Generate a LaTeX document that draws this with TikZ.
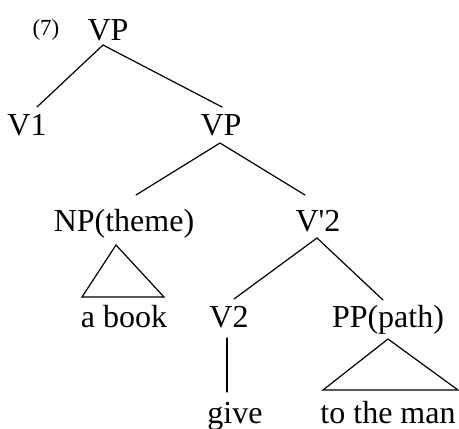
\documentclass[tikz,border=0pt]{standalone}
\usepackage{fontspec}
\setmainfont{Liberation Serif}
\begin{document}
\begin{tikzpicture}[x=1pt,y=-1pt,
  lbl/.style={anchor=base,inner sep=0pt,font=\fontsize{32}{36}\selectfont},
  small/.style={anchor=base,inner sep=0pt,font=\fontsize{23}{27}\selectfont},
  edge/.style={line width=1.2pt,line cap=round,line join=miter}]
\useasboundingbox (0,0) rectangle (459,429);
% labels
\node[small] (ex) at (46,35) {(7)};
\node[lbl] (vp1) at (108,40) {VP};
\node[lbl] (v1) at (27,135) {V1};
\node[lbl] (vp2) at (221,135) {VP};
\node[lbl] (np) at (124,231) {NP(theme)};
\node[lbl] (vbar) at (318,231) {V\textquotesingle 2};
\node[lbl] (book) at (124,327) {a book};
\node[lbl] (v2) at (229,327) {V2};
\node[lbl] (pp) at (388,327) {PP(path)};
\node[lbl] (give) at (235,423) {give};
\node[lbl] (man) at (388,423) {to the man};
% connector ends
\coordinate (vp1b) at (103,45);
\coordinate (v1t) at (37,107);
\coordinate (vp2t) at (222,107);
\coordinate (vp2b) at (220,143);
\coordinate (npt) at (136,195);
\coordinate (vbart) at (305,195);
\coordinate (npa) at (116,245);
\coordinate (npl) at (82,297);
\coordinate (npr) at (164,297);
\coordinate (vbarb) at (317,238);
\coordinate (v2t) at (234,299);
\coordinate (ppt) at (383,300);
\coordinate (v2b) at (227,338);
\coordinate (givet) at (227,392);
\coordinate (ppa) at (388,339);
\coordinate (ppl) at (323,390);
\coordinate (ppr) at (458,390);
% connectors
\draw[edge] (v1t) -- (vp1b) -- (vp2t);
\draw[edge] (npt) -- (vp2b) -- (vbart);
\draw[edge] (npa) -- (npl) -- (npr) -- cycle;
\draw[edge] (v2t) -- (vbarb) -- (ppt);
\draw[edge] (v2b) -- (givet);
\draw[edge] (ppa) -- (ppl) -- (ppr) -- cycle;
\end{tikzpicture}
\end{document}
